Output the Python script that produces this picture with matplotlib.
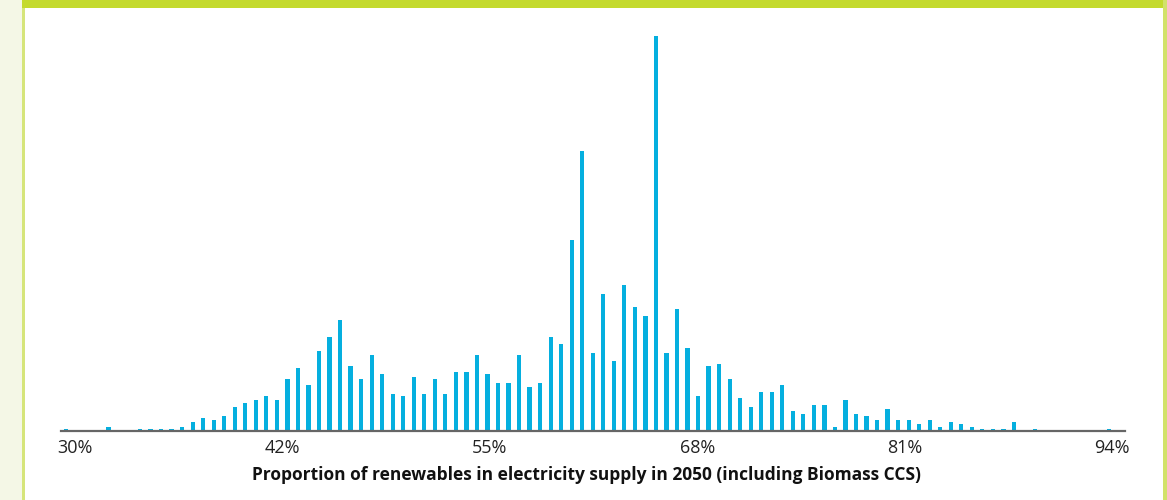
import matplotlib
matplotlib.use("Agg")
import matplotlib.pyplot as plt
from matplotlib.patches import Rectangle
import numpy as np

# bin index 0..99 (each bin ~0.64 percentage points, starting at 30%)
bin_index = list(range(100))
counts = [
    1.3, 0, 0, 0, 4, 0, 0, 1.5, 1.5, 1.5,
    1.5, 4, 8.7, 13, 10.7, 14.7, 23.7, 27.7, 30.7, 34.7,
    30.7, 51.7, 62.7, 45.7, 79.7, 93.7, 110.7, 64.7, 51.7, 75.7,
    56.7, 36.7, 34.7, 53.7, 36.7, 51.7, 36.7, 58.7, 58.7, 75.7,
    56.7, 47.7, 47.7, 75.7, 43.7, 47.7, 93.7, 86.7, 190.7, 279.7,
    77.7, 136.7, 69.7, 145.7, 123.7, 114.7, 394.7, 77.7, 121.7, 82.7,
    34.7, 64.7, 66.7, 51.7, 32.7, 23.7, 38.7, 38.7, 45.7, 19.7,
    16.7, 25.7, 25.7, 3.7, 30.7, 16.7, 14.7, 10.7, 21.7, 10.7,
    10.7, 6.7, 10.7, 3.7, 8.7, 6.7, 3.7, 1.7, 1.7, 1.7,
    8.7, 0, 1.7, 0, 0, 0, 0, 0, 0, 1.7,
]
tick_labels = ["30%", "42%", "55%", "68%", "81%", "94%"]
xlabel = "Proportion of renewables in electricity supply in 2050 (including Biomass CCS)"

W, H = 1167, 500
fig = plt.figure(figsize=(W / 100, H / 100), dpi=100)
fig.patch.set_facecolor("white")

# decorative frame
fig.patches.append(Rectangle((0, 0), 22 / W, 1, transform=fig.transFigure,
                             facecolor="#F4F7E6", edgecolor="none", zorder=0))
fig.patches.append(Rectangle((22 / W, 0), 3 / W, 1, transform=fig.transFigure,
                             facecolor="#D6E57A", edgecolor="none", zorder=0))
fig.patches.append(Rectangle((22 / W, 1 - 7.5 / H), 1 - 22 / W, 7.5 / H, transform=fig.transFigure,
                             facecolor="#C4DA2E", edgecolor="none", zorder=0))
fig.patches.append(Rectangle((1163 / W, 0), 4 / W, 1, transform=fig.transFigure,
                             facecolor="#D2E26A", edgecolor="none", zorder=0))

left_px, right_px = 60.7, 1124.7
base_px, top_px = 430.7, 30.7
ax = fig.add_axes([left_px / W, (H - base_px) / H, (right_px - left_px) / W, (base_px - top_px) / H])
ax.set_facecolor("none")

ax.bar(bin_index, counts, width=0.4, color="#05AFDF", edgecolor="none", zorder=2)

ax.set_xlim(-0.53, 100.52)
ax.set_ylim(0, 400)
for s in ["top", "right", "left"]:
    ax.spines[s].set_visible(False)
ax.spines["bottom"].set_color("#666666")
ax.spines["bottom"].set_linewidth(1.6)
ax.spines["bottom"].set_zorder(3)
ax.set_yticks([])

tick_pos = [0.826 + 19.70 * i for i in range(len(tick_labels))]
ax.set_xticks(tick_pos)
ax.set_xticklabels(tick_labels, fontsize=13, color="#222222", family=["Open Sans", "DejaVu Sans"])
ax.tick_params(axis="x", length=0, pad=6)

fig.text(587 / W, (H - 475) / H, xlabel, ha="center", va="center", fontsize=12.5,
         fontweight="bold", color="#111111", family=["Open Sans", "DejaVu Sans"])

fig.savefig("out.png", dpi=100)
